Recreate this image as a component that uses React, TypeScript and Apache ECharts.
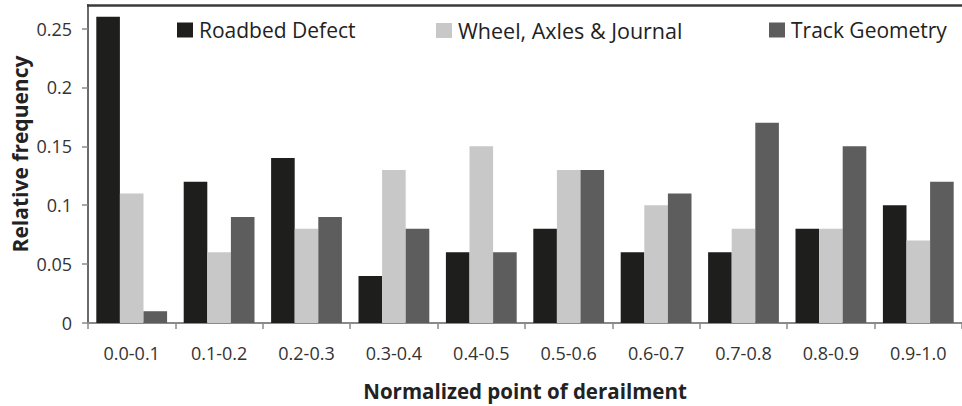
import React, { useEffect, useRef } from "react";
import * as echarts from "echarts";

const categories = ["0.0-0.1", "0.1-0.2", "0.2-0.3", "0.3-0.4", "0.4-0.5", "0.5-0.6", "0.6-0.7", "0.7-0.8", "0.8-0.9", "0.9-1.0"];
const roadbedDefect = [0.26, 0.12, 0.14, 0.04, 0.06, 0.08, 0.06, 0.06, 0.08, 0.10];
const wheelAxlesJournal = [0.11, 0.06, 0.08, 0.13, 0.15, 0.13, 0.10, 0.08, 0.08, 0.07];
const trackGeometry = [0.01, 0.09, 0.09, 0.08, 0.06, 0.13, 0.11, 0.17, 0.15, 0.12];
const yTicks = [0, 0.05, 0.1, 0.15, 0.2, 0.25];
const seriesNames = ["Roadbed Defect", "Wheel, Axles & Journal", "Track Geometry"];
const seriesColors = ["#1e1e1c", "#c8c8c8", "#5c5d5c"];
const xTitle = "Normalized point of derailment";
const yTitle = "Relative frequency";

const FONT = "'Open Sans', sans-serif";

export default function App() {
  const ref = useRef<HTMLDivElement>(null);
  useEffect(() => {
    if (!ref.current) return;
    const chart = echarts.init(ref.current, undefined, { renderer: "svg" });
    const legendLefts = [177, 436, 769];
    const data = [roadbedDefect, wheelAxlesJournal, trackGeometry];
    chart.setOption({
      animation: false,
      backgroundColor: "#ffffff",
      textStyle: { fontFamily: FONT },
      grid: { left: 88, top: 5, bottom: 82, right: -8.5, containLabel: false },
      legend: seriesNames.map((n, i) => ({
        data: [n],
        left: legendLefts[i],
        top: 19.5,
        padding: 0,
        icon: "rect",
        itemWidth: 16,
        itemHeight: 15,
        itemGap: 0,
        selectedMode: false,
        textStyle: { fontFamily: FONT, fontSize: i === 1 ? 21.5 : 21, color: "#222222", padding: [0, 0, 0, 1] },
      })),
      xAxis: {
        type: "category",
        data: categories,
        name: xTitle,
        nameLocation: "middle",
        nameGap: 57,
        nameTextStyle: { fontFamily: FONT, fontSize: 20.5, fontWeight: "bold", color: "#222222" },
        axisLine: { lineStyle: { color: "#8a8a8a", width: 2 } },
        axisTick: { show: true, length: 6, lineStyle: { color: "#8a8a8a", width: 1.5 } },
        axisLabel: { fontFamily: FONT, fontSize: 18, color: "#333333", margin: 21 },
        splitLine: { show: false },
      },
      yAxis: {
        type: "value",
        min: 0,
        max: 0.27,
        interval: 0.05,
        axisLine: { show: true, lineStyle: { color: "#6a6a6a", width: 2 } },
        axisTick: { show: true, length: 6, customValues: yTicks, lineStyle: { color: "#8a8a8a", width: 1.5 } },
        axisLabel: {
          fontFamily: FONT,
          fontSize: 18,
          color: "#333333",
          margin: 16,
          customValues: yTicks,
          formatter: (v: number) => String(parseFloat(v.toFixed(2))),
        },
        splitLine: { show: false },
      },
      graphic: [
        {
          type: "line",
          shape: { x1: 87, y1: 5.5, x2: 962, y2: 5.5 },
          style: { stroke: "#3a3a3a", lineWidth: 2.5 },
          z: 10,
        },
        {
          type: "text",
          x: 20,
          y: 154,
          rotation: Math.PI / 2,
          style: {
            text: yTitle,
            fontFamily: FONT,
            fontSize: 21,
            fontWeight: "bold",
            fill: "#222222",
            align: "center",
            verticalAlign: "middle",
          },
        },
      ],
      series: seriesNames.map((n, i) => ({
        name: n,
        type: "bar",
        data: data[i],
        barGap: "0%",
        barCategoryGap: "19%",
        itemStyle: { color: seriesColors[i] },
      })),
    });
    return () => chart.dispose();
  }, []);
  return <div ref={ref} style={{ position: "absolute", left: 0, top: 0, width: 962, height: 406 }} />;
}
